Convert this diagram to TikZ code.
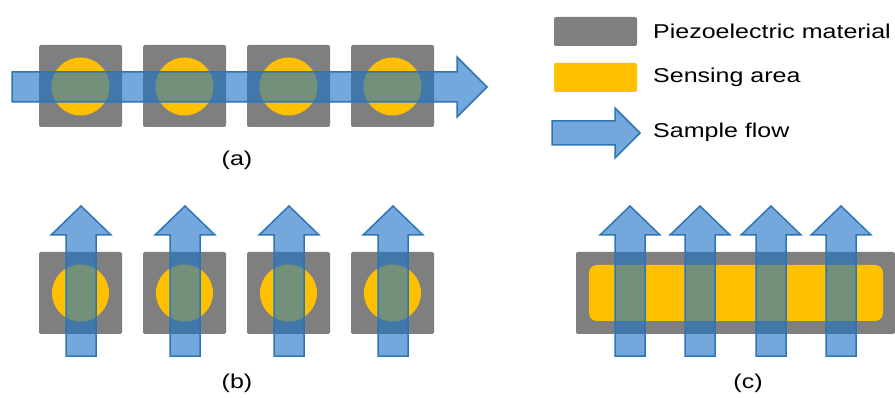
\documentclass[tikz,border=0pt]{standalone}
\usepackage{fontspec}
\setmainfont{Liberation Sans}[FakeStretch=1.25]
\usepackage{tikz}
\usetikzlibrary{positioning}

\definecolor{piezogray}{RGB}{127,127,127}
\definecolor{senseyellow}{RGB}{255,192,0}
\definecolor{flowfill}{RGB}{30,115,198}
\definecolor{flowline}{RGB}{46,117,182}

\begin{document}
\begin{tikzpicture}[x=1pt,y=-1pt,
		piezo/.style={fill=piezogray, rounded corners=2pt},
		sense/.style={fill=senseyellow},
		flow/.style={fill=flowfill, fill opacity=0.62, draw=flowline, draw opacity=1, line width=1.5pt, line join=miter},
		lbl/.style={font=\fontsize{20}{24}\selectfont, inner sep=0pt},
		legtext/.style={lbl, anchor=west}]
		\useasboundingbox (0,0) rectangle (895,398);
		
		% (a) and (b): single squares with round sensing areas
		\foreach \x in {39,143,247,351}{
			\fill[piezo] (\x,45) rectangle ++(83,82);
			\fill[sense] (\x+41.5,86.5) circle (29);
			\fill[piezo] (\x,252) rectangle ++(83,82);
			\fill[sense] (\x+41.5,293) circle (28.5);
		}
		
		% (c): one long strip
		\fill[piezo] (576,252) rectangle (895,334);
		\fill[sense, rounded corners=8pt] (589,265) rectangle (883,321);
		
		% flow arrows
		\draw[flow] (12,72) -- (457,72) -- (457,57) -- (487,87) -- (457,117)
		            -- (457,102) -- (12,102) -- cycle;
		
		\foreach \c in {81,185,289,393,630,700,771,841}{
			\draw[flow] (\c-15,356) -- (\c-15,235) -- (\c-30,235) -- (\c,206)
			            -- (\c+30,235) -- (\c+15,235) -- (\c+15,356) -- cycle;
		}
		
		% legend
		\fill[piezo] (554,17) rectangle (637,46);
		\fill[sense, rounded corners=2pt] (554,63) rectangle (637,92);
		\draw[flow] (552,121) -- (615,121) -- (615,108) -- (640,133) -- (615,158)
		            -- (615,145) -- (552,145) -- cycle;
		\node[legtext] (legpiezo) at (653,31) {Piezoelectric material};
		\node[legtext] (legsense) at (653,77) {Sensing area};
		\node[legtext] (legflow) at (653,132) {Sample flow};
		
		% captions
		\node[lbl] (capa) at (237,160) {(a)};
		\node[lbl] (capb) at (237,383) {(b)};
		\node[lbl] (capc) at (748,383) {(c)};
	\end{tikzpicture}
\end{document}
